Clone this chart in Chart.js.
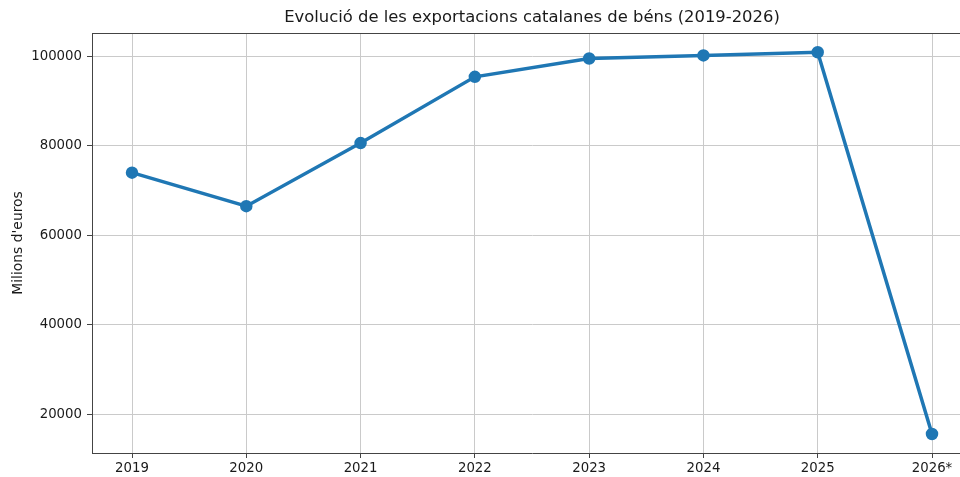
<!DOCTYPE html>
<html>
<head>
<meta charset="utf-8">
<script src="https://cdn.jsdelivr.net/npm/chart.js@4"></script>
<style>
html, body { margin: 0; padding: 0; background: #fff; overflow: hidden; }
#wrap { width: 960px; height: 477px; overflow: hidden; }
</style>
</head>
<body>
<div id="wrap"><canvas id="exportChart" width="1000" height="477"></canvas></div>
<script>
// Data (milions d'euros)
const years = ['2019', '2020', '2021', '2022', '2023', '2024', '2025', '2026*'];
const exportValues = [74000, 66500, 80600, 95400, 99500, 100200, 100900, 15600];
const yTicks = [20000, 40000, 60000, 80000, 100000];
const chartTitle = 'Evolució de les exportacions catalanes de béns (2019-2026)';

const FONT = "'DejaVu Sans', sans-serif";
const TEXT = '#1a1a1a';

// The original axes run past the right edge of the image: the canvas is a bit wider
// than the page and its right part is cut off by the wrapper.
const X_MIN = -0.35;
const X_MAX = 7.35;

// Top spine + title centred on the axes
const framePlugin = {
    id: 'frame',
    afterDraw(chart) {
        const { ctx, chartArea } = chart;
        ctx.save();
        ctx.strokeStyle = '#444';
        ctx.lineWidth = 1;
        ctx.beginPath();
        ctx.moveTo(chartArea.left, chartArea.top + 0.5);
        ctx.lineTo(chartArea.right, chartArea.top + 0.5);
        ctx.stroke();

        ctx.fillStyle = TEXT;
        ctx.font = '16.4px ' + FONT;
        ctx.textAlign = 'center';
        ctx.textBaseline = 'middle';
        ctx.fillText(chartTitle, (chartArea.left + chartArea.right) / 2, 18);
        ctx.restore();
    }
};

const ctx = document.getElementById('exportChart').getContext('2d');

new Chart(ctx, {
    type: 'line',
    data: {
        datasets: [{
            data: exportValues.map((v, i) => ({ x: i, y: v })),
            borderColor: '#1f77b4',
            backgroundColor: '#1f77b4',
            borderWidth: 3.5,
            pointRadius: 4.5,
            pointHoverRadius: 4.5,
            fill: false,
            tension: 0
        }]
    },
    options: {
        responsive: false,
        animation: false,
        devicePixelRatio: 1,
        layout: { autoPadding: false, padding: { left: 0, right: 28, top: 33, bottom: 0 } },
        plugins: {
            legend: { display: false },
            tooltip: { enabled: false },
            title: { display: false }
        },
        scales: {
            x: {
                type: 'linear',
                min: X_MIN,
                max: X_MAX,
                afterBuildTicks: (scale) => {
                    scale.ticks = years.map((_, i) => ({ value: i }));
                },
                afterFit: (scale) => {
                    scale.height = 24;
                    scale.paddingLeft = 0;
                    scale.paddingRight = 0;
                },
                ticks: {
                    autoSkip: false,
                    maxRotation: 0,
                    padding: 3,
                    color: TEXT,
                    font: { family: FONT, size: 13.3 },
                    callback: (value) => years[Math.round(value)]
                },
                grid: {
                    color: '#cacaca',
                    lineWidth: 1,
                    tickColor: '#444',
                    tickLength: 5
                },
                border: { color: '#444', width: 1 }
            },
            y: {
                min: 11350,
                max: 105200,
                afterBuildTicks: (scale) => {
                    scale.ticks = yTicks.map(v => ({ value: v }));
                },
                afterFit: (scale) => {
                    scale.width = 92;
                    scale.paddingTop = 0;
                    scale.paddingBottom = 0;
                },
                ticks: {
                    padding: 5,
                    color: TEXT,
                    font: { family: FONT, size: 13.3 },
                    callback: (value) => String(value)
                },
                grid: {
                    color: '#cacaca',
                    lineWidth: 1,
                    tickColor: '#444',
                    tickLength: 5
                },
                border: { color: '#444', width: 1 },
                title: {
                    display: true,
                    text: "Milions d'euros",
                    color: TEXT,
                    font: { family: FONT, size: 13.9 },
                    padding: { top: 10, bottom: 0 }
                }
            }
        }
    },
    plugins: [framePlugin]
});
</script>
</body>
</html>
